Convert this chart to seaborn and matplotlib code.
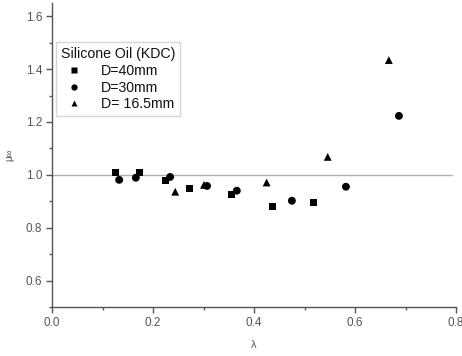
import matplotlib
matplotlib.use("Agg")
import matplotlib.pyplot as plt
import seaborn as sns
import pandas as pd
from matplotlib.ticker import MultipleLocator
from matplotlib.markers import MarkerStyle
from matplotlib.transforms import Affine2D

sns.set_style("ticks")
plt.rcParams['font.family'] = ['Liberation Sans', 'DejaVu Sans']

x40 = [0.125, 0.174, 0.224, 0.273, 0.356, 0.436, 0.517]
y40 = [1.008, 1.008, 0.977, 0.947, 0.926, 0.879, 0.894]
x30 = [0.133, 0.166, 0.234, 0.307, 0.366, 0.475, 0.582, 0.687]
y30 = [0.981, 0.989, 0.992, 0.958, 0.940, 0.902, 0.955, 1.223]
x16 = [0.244, 0.301, 0.425, 0.546, 0.667]
y16 = [0.936, 0.962, 0.971, 1.068, 1.434]
labels = ["D=40mm", "D=30mm", "D= 16.5mm"]

df = pd.DataFrame({
    "lam": x40 + x30 + x16,
    "mu": y40 + y30 + y16,
    "D": [labels[0]] * len(x40) + [labels[1]] * len(x30) + [labels[2]] * len(x16),
})

sq = MarkerStyle("s", transform=Affine2D().scale(0.9))
fig = plt.figure(figsize=(4.62, 3.56), dpi=100)
ax = fig.add_axes([52/462, 1-307/356, (456-52)/462, (307-3)/356])
ax.axhline(1.0, xmin=0, xmax=0.99, color="#b0b0b0", lw=1.0, zorder=1)
sns.scatterplot(data=df, x="lam", y="mu", style="D", hue="D",
                palette=["black"] * 3, markers=[sq, "o", "^"],
                s=32, edgecolor="none", ax=ax, zorder=3)

ax.set_xlim(0, 0.8)
ax.set_ylim(0.5, 1.65)
ax.xaxis.set_minor_locator(MultipleLocator(0.1))
ax.yaxis.set_minor_locator(MultipleLocator(0.1))
ax.set_xticks([0.0, 0.2, 0.4, 0.6, 0.8])
ax.set_xticklabels(["0.0", "0.2", "0.4", "0.6", "0.8"])
ax.set_yticks([0.6, 0.8, 1.0, 1.2, 1.4, 1.6])
ax.set_yticklabels(["0.6", "0.8", "1.0", "1.2", "1.4", "1.6"])
for s in ["top", "right"]:
    ax.spines[s].set_visible(False)
for s in ["left", "bottom"]:
    ax.spines[s].set_color("#555555")
    ax.spines[s].set_linewidth(1.0)
ax.tick_params(which="major", length=4, width=1, color="#555555", labelsize=8.5, labelcolor="#555555", pad=3)
ax.tick_params(which="minor", length=2.5, width=1, color="#555555")
ax.set_xlabel("λ", fontsize=8, color="#555555", labelpad=8)
ax.set_ylabel("μ∞", fontsize=7, color="#555555", labelpad=8)

leg = ax.legend(title="Silicone Oil (KDC)", loc="upper left",
                frameon=True, fancybox=False, fontsize=10.2, title_fontsize=10.2,
                handletextpad=0.9, borderpad=0.35, labelspacing=0.2,
                markerscale=0.8, handlelength=1.9, borderaxespad=0)
leg.get_frame().set_edgecolor("#cccccc")
leg.get_frame().set_linewidth(1.0)
leg._legend_box.align = "left"
for t in leg.get_texts():
    t.set_color("#111111")
leg.get_title().set_color("#111111")
leg.set_bbox_to_anchor(((56-52)/404, (307-42)/304), transform=ax.transAxes)

fig.savefig("out.png", dpi=100)
